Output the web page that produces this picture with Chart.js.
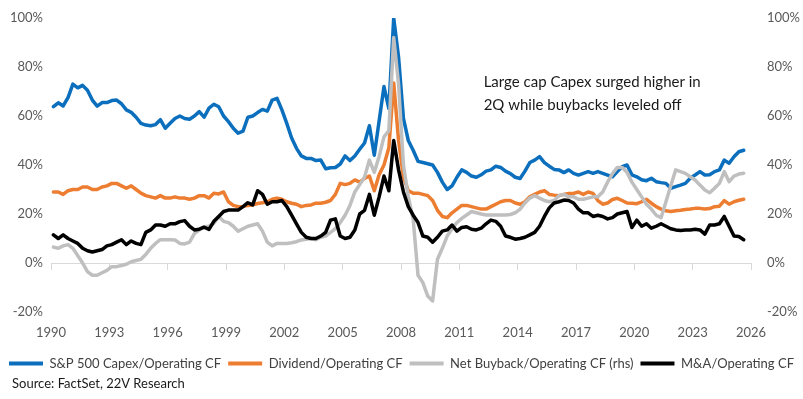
<!DOCTYPE html>
<html>
<head>
<meta charset="utf-8">
<script src="https://cdn.jsdelivr.net/npm/chart.js@4.4.1/dist/chart.umd.min.js"></script>
<style>
  html, body { margin: 0; padding: 0; background: #ffffff; }
  #wrap { width: 803px; height: 399px; }
</style>
</head>
<body>
<div id="wrap"><canvas id="c" width="803" height="399"></canvas></div>
<script>
// ---- Data (quarterly, 1990Q1 .. 2025Q3), values in % ----
const startYear = 1990;
const xTickLabels = [1990, 1993, 1996, 1999, 2002, 2005, 2008, 2011, 2014, 2017, 2020, 2023, 2026];
const yTickLabels = [-20, 0, 20, 40, 60, 80, 100];
const seriesNames = ["S&P 500 Capex/Operating CF", "Dividend/Operating CF", "Net Buyback/Operating CF (rhs)", "M&A/Operating CF"];
const annotationLines = ["Large cap Capex surged higher in", "2Q while buybacks leveled off"];
const sourceText = "Source: FactSet, 22V Research";

const capex = [
  63.8,65.4,64.1,67.5,73,71.5,72.5,70.5,66.5,64,65.5,65.5,66.3,66.5,65,62.5,61.5,59.5,57,56.3,
  56,56.5,58.5,55,57,59,60,59,58.7,60,61.8,59.5,63.2,64.8,63.8,60,57.7,55,53,53.8,
  59.5,60,61.4,62.7,62,66.5,67.2,62.5,57,51,46.8,43.7,42.7,42.7,41.8,42,38.5,38.9,39,40.4,
  43.7,41.8,43.7,46.4,49,56,44,58,72,63,100,84,59,50,46,41.5,41,40.5,40,37,
  33,30,31.5,35,38,37,35.5,35,36,37.5,38,39.5,39,37.5,36.5,35,34.5,37.5,41,42,
  43.4,41,39.5,38.2,38,36.9,38,36.6,35.9,36.6,37.3,36.6,37.3,36.6,35.9,35.2,37.3,39.3,40,36,
  35.2,34,33.6,34.6,33.2,32.8,32.5,30.5,31.2,31.8,32.5,34.6,35.9,37.3,35.9,36,37.3,38,42,40.7,
  43.4,45.4,46
];
const dividend = [
  29,29,28,29.5,30,30,31,31,30,30,31,31.5,32.5,32.5,31.5,30.5,31.5,30,28.5,27.5,
  27,26.5,27.5,26.5,26.5,27,26.5,26.5,26,26.5,27.5,27.5,26.5,28.5,28.2,29,25,23.5,23,23,
  23.5,23.7,24.3,24.6,25,26,26.5,26,25,24.4,24,23,23.5,23.7,24.4,24.4,24.8,25.5,28,32.5,
  32,32.5,33.9,33,34.5,35.5,29.5,36,40,47,73.5,50,35,29.5,28.5,28.5,28,27.5,25.5,21.5,
  19,18.5,20.5,22,23.5,23.5,23,22.5,22,22,23,24,25,25.5,25.5,24.5,24,25,27,28,
  29,29.5,28,27.7,27.5,28,28.4,28.4,29,28,29,28.4,25.5,24,24.5,25.9,26.4,25.5,24.5,24.4,
  24.2,25,26,24.4,23,22,21.3,21,21.3,21.5,21.8,22,22.3,22.3,22,22.2,23,23.2,25.5,24,
  25,25.6,26
];
const buyback = [
  6.5,6,7,7.5,6,3,0,-3.5,-5,-5,-4,-3,-1.5,-1.5,-1,-0.5,0.5,1,1.5,3.5,
  6,8,9.5,9.5,9.5,9.4,8,7.8,8.5,12,13.5,14.8,15,16.2,19,17,16.5,15,13,14,
  15,15.5,16,13,8.5,7,8,8,8,8.3,8.7,9.4,9.7,10,9.5,10.5,11,12.5,14,16.5,
  19.5,23.5,29,32,35,42,37,43.5,51.5,54,92,73,40,27,18,-5,-8,-13.5,-15.5,1.5,
  6,11,14,16.5,18.2,19.6,21,20.5,20,19.6,19.6,19.6,19.6,19.6,19.8,20.5,22,24.5,26.5,27.5,
  26.5,25.5,25,25.5,27.5,28,27,27,26,26,26.5,27,27,29,33,36.5,39,39,37,33,
  30,27,24,22,19.5,18.5,25,31.5,38,37.3,36.6,35.2,33.9,31.8,29.8,28.7,30.5,32.5,37.3,33.2,
  35.5,36.3,36.6
];
const mna = [
  11.5,10,11.5,10,9,8,6,5,4.5,5,5.5,7,7.5,8.5,9.5,7.5,9,8,7.5,12.5,
  13.5,15.5,15.5,15,16,16,16.9,17.3,15,13.5,13.8,14.6,13.7,17,19,21,21.6,21.6,21.6,23,
  24.6,23.7,29.5,28,24,25,25,25.5,23,19.5,16,12.5,10.5,10,10,11,12.5,17.5,18,11,
  10,10.5,13.5,20,21.5,28,19.5,27,35.5,29.5,50,38,29,23,19.5,16.5,11,10.5,8.5,10.5,
  13,13.5,15.5,13,14.5,14.8,13.8,13.5,14.2,16,17.5,17,15,11,10.5,9.7,10,10.5,11.5,12.5,
  15,19,22.5,24.5,25,25.7,25.5,24.5,22,20.5,20.5,19,19.5,19,18,18.5,20,20.5,21,14.5,
  17.5,15,16,14.2,15,16,15,14,13.5,13.3,13.5,13.5,13.8,13.5,11.8,15.5,15.5,16,19,15,
  11,10.8,9.5
];

// quarter categories
const quarters = [];
for (let i = 0; i < capex.length; i++) {
  quarters.push((startYear + Math.floor(i / 4)) + "Q" + (i % 4 + 1));
}
function qToYear(q) {
  const y = parseInt(q.slice(0, 4), 10);
  const n = parseInt(q.slice(5), 10);
  return y + (n - 1) * 0.25 + 0.125;
}
function pts(values) {
  return values.map((v, i) => ({ x: qToYear(quarters[i]), y: v }));
}

const FONT = "Lato, 'Open Sans', sans-serif";
const colors = ["#0b6fbd", "#ed7d31", "#bfbfbf", "#000000"];

const textPlugin = {
  id: 'texts',
  afterDraw(chart) {
    const ctx = chart.ctx;
    const xs = chart.scales.x, ys = chart.scales.y;
    ctx.save();
    ctx.font = "15px " + FONT;
    ctx.fillStyle = "#1a1a1a";
    ctx.textBaseline = "middle";
    ctx.textAlign = "left";
    const x0 = xs.getPixelForValue(2012.25);
    ctx.fillText(annotationLines[0], x0, ys.getPixelForValue(73.7));
    ctx.fillText(annotationLines[1], x0, ys.getPixelForValue(64.3));
    ctx.font = "13px " + FONT;
    ctx.fillText(sourceText, 12, chart.height - 15);
    ctx.restore();
  }
};

const ds = (label, data, color, axis, order) => ({
  label, data: pts(data), borderColor: color, backgroundColor: color,
  borderWidth: 3.5, pointRadius: 0, tension: 0, fill: false,
  xAxisID: 'x', yAxisID: axis, order, borderJoinStyle: 'round', borderCapStyle: 'round'
});

new Chart(document.getElementById('c'), {
  type: 'line',
  data: {
    datasets: [
      ds(seriesNames[0], capex, colors[0], 'y', 4),
      ds(seriesNames[1], dividend, colors[1], 'y', 3),
      ds(seriesNames[2], buyback, colors[2], 'y2', 2),
      ds(seriesNames[3], mna, colors[3], 'y', 1)
    ]
  },
  options: {
    responsive: false,
    animation: false,
    layout: { padding: { top: 18, left: 0, right: 0, bottom: 19 } },
    plugins: {
      tooltip: { enabled: false },
      legend: {
        position: 'bottom',
        labels: {
          boxWidth: 34, boxHeight: 4, padding: 7,
          color: '#404040',
          font: { family: FONT, size: 13 },
          generateLabels: (chart) => Chart.defaults.plugins.legend.labels.generateLabels(chart)
            .map(l => Object.assign(l, { lineWidth: 0 })),
          sort: (a, b) => a.datasetIndex - b.datasetIndex
        }
      }
    },
    scales: {
      x: {
        type: 'linear', min: xTickLabels[0], max: xTickLabels[xTickLabels.length - 1],
        position: { y: 0 },
        ticks: { display: false, stepSize: 3 },
        grid: { drawOnChartArea: false, drawTicks: true, tickLength: 6, color: '#d9d9d9' },
        border: { display: true, color: '#d9d9d9', width: 1 }
      },
      xb: {
        type: 'linear', min: xTickLabels[0], max: xTickLabels[xTickLabels.length - 1],
        position: 'bottom',
        afterBuildTicks: (s) => { s.ticks = xTickLabels.map(v => ({ value: v })); },
        ticks: { callback: (v) => String(v), color: '#595959', font: { family: FONT, size: 13 },
                 padding: 13, maxRotation: 0, autoSkip: false },
        grid: { display: false, drawTicks: false },
        border: { display: false },
        afterFit: (s) => { s.height = 38; }
      },
      y: {
        position: 'left', min: yTickLabels[0], max: yTickLabels[yTickLabels.length - 1],
        afterBuildTicks: (s) => { s.ticks = yTickLabels.map(v => ({ value: v })); },
        ticks: { callback: (v) => v + '%', color: '#595959', font: { family: FONT, size: 13 }, padding: 8 },
        grid: { display: false, drawTicks: false },
        border: { display: false },
        afterFit: (s) => { s.width = 51; }
      },
      y2: {
        position: 'right', min: yTickLabels[0], max: yTickLabels[yTickLabels.length - 1],
        afterBuildTicks: (s) => { s.ticks = yTickLabels.map(v => ({ value: v })); },
        ticks: { callback: (v) => v + '%', color: '#595959', font: { family: FONT, size: 13 }, padding: 8 },
        grid: { display: true, drawOnChartArea: false, drawTicks: true, tickLength: 8, color: 'rgba(0,0,0,0)' },
        border: { display: false },
        afterFit: (s) => { s.width = 52; }
      }
    }
  },
  plugins: [textPlugin]
});
</script>
</body>
</html>
